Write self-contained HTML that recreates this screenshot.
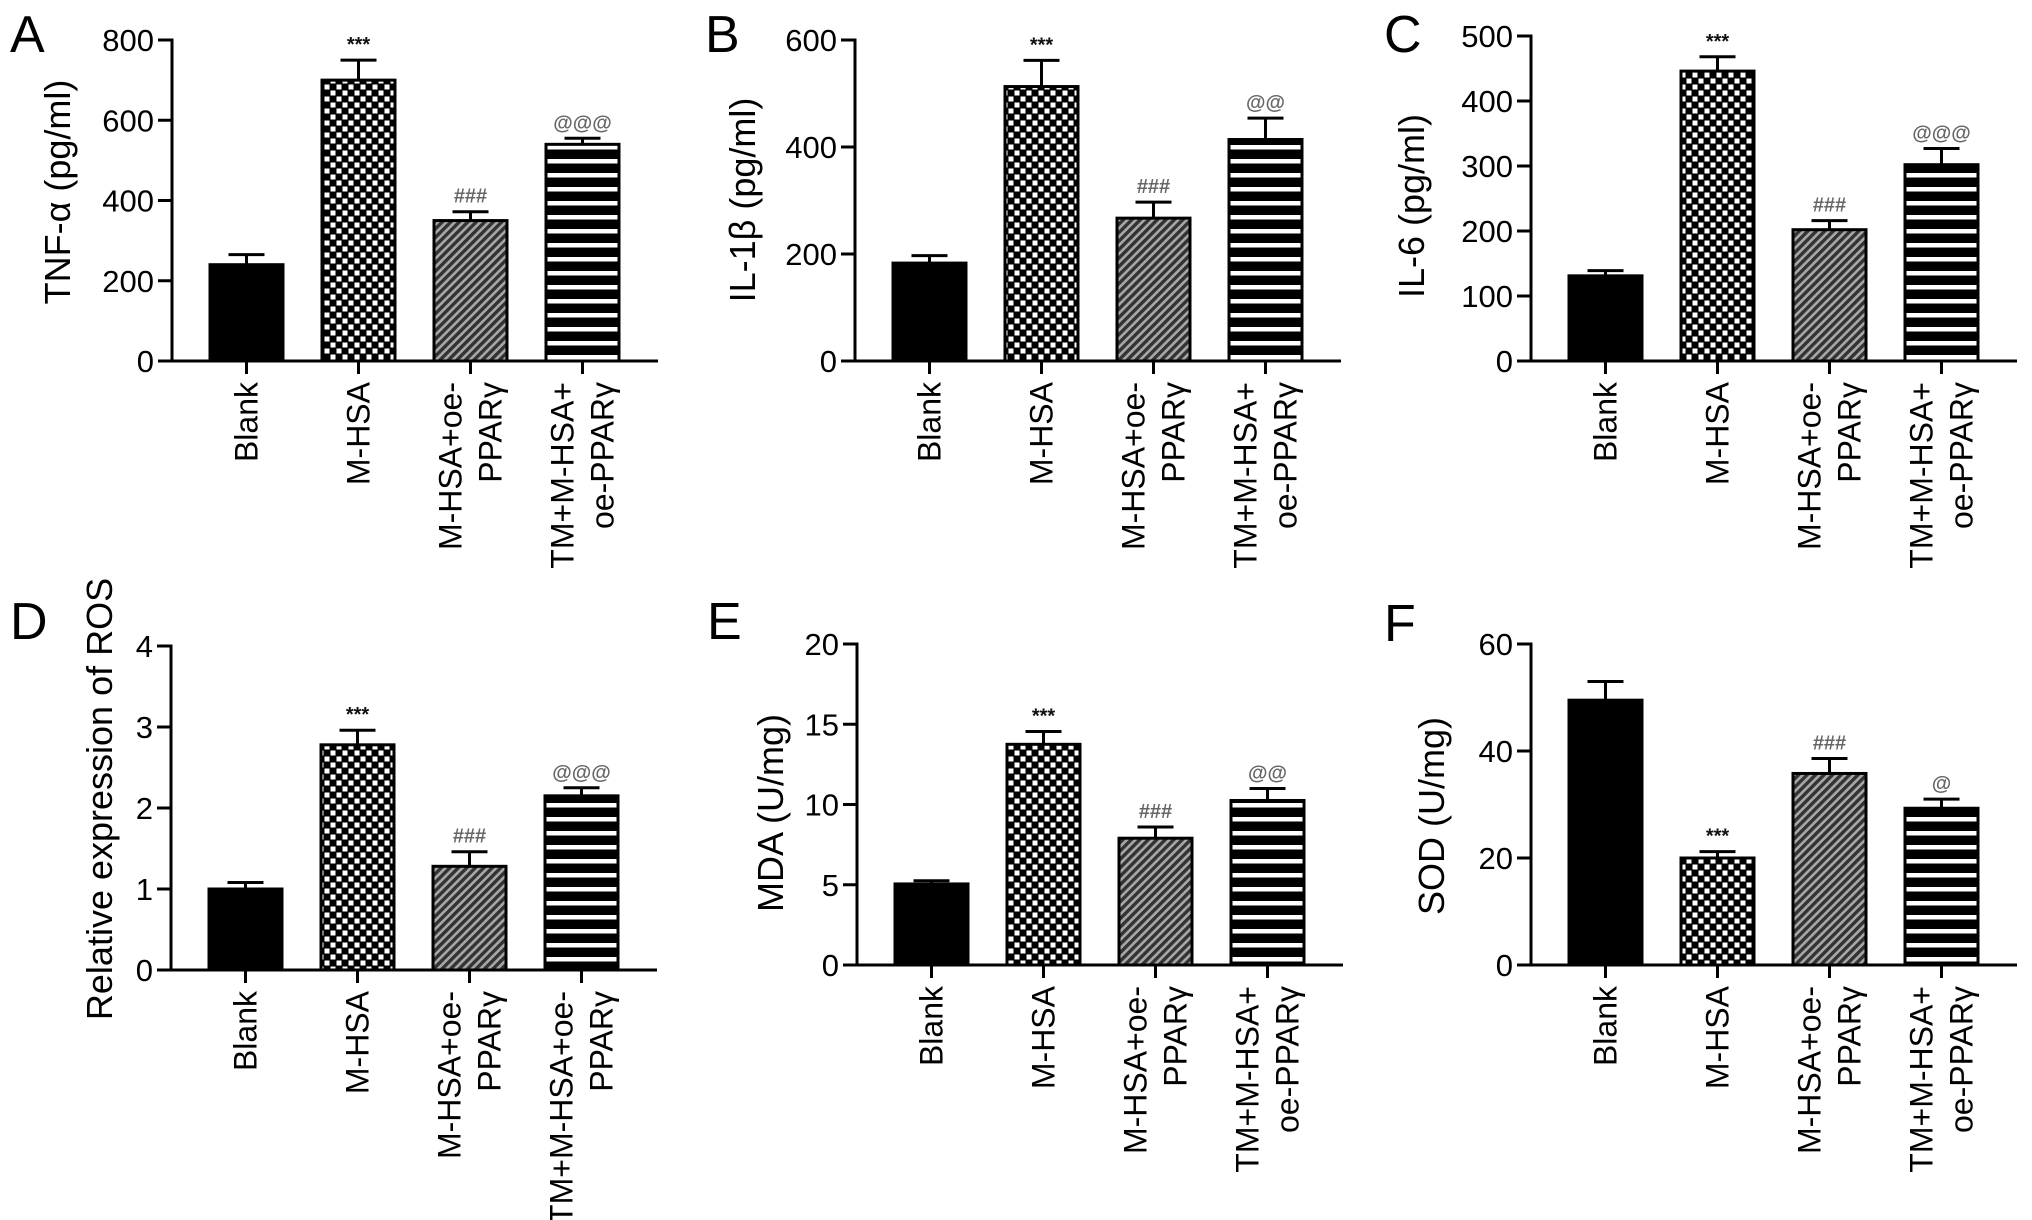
<!DOCTYPE html>
<html><head><meta charset="utf-8">
<style>
html,body{margin:0;padding:0;background:#fff;}
svg{display:block;font-family:"Liberation Sans",Arial,sans-serif;}
</style></head>
<body>
<svg id="fig" width="2032" height="1220" viewBox="0 0 2032 1220" xmlns="http://www.w3.org/2000/svg">
<defs>
<pattern id="checker" patternUnits="userSpaceOnUse" width="12" height="12">
<rect width="12" height="12" fill="#000"/>
<rect x="0.5" y="0.5" width="5" height="5" fill="#fff"/>
<rect x="6.5" y="6.5" width="5" height="5" fill="#fff"/>
</pattern>
<pattern id="diag" patternUnits="userSpaceOnUse" width="6" height="6" patternTransform="rotate(45)">
<rect width="6" height="6" fill="#a8a8a8"/>
<rect width="3.4" height="6" fill="#333"/>
</pattern>
<pattern id="stripes" patternUnits="userSpaceOnUse" width="10" height="14">
<rect width="10" height="14" fill="#000"/>
<rect y="5" width="10" height="4.5" fill="#fff"/>
</pattern>
</defs>
</svg>
<script>
// Category labels (line breaks separated by |)
const categories = ["Blank", "M-HSA", "M-HSA+oe-|PPARγ", "TM+M-HSA+|oe-PPARγ"];
const categoriesD = ["Blank", "M-HSA", "M-HSA+oe-|PPARγ", "TM+M-HSA+oe-|PPARγ"];
// Panel A TNF-α
const valuesA = [240, 700, 350, 540];
const errorsA = [25, 50, 22, 15];
const ticksA = [0, 200, 400, 600, 800];
const marksA = ["", "***", "###", "@@@"];
// Panel B IL-1β
const valuesB = [183, 513, 267, 414];
const errorsB = [14, 49, 30, 40];
const ticksB = [0, 200, 400, 600];
const marksB = ["", "***", "###", "@@"];
// Panel C IL-6
const valuesC = [131, 446, 202, 302];
const errorsC = [8, 22, 14, 25];
const ticksC = [0, 100, 200, 300, 400, 500];
const marksC = ["", "***", "###", "@@@"];
// Panel D ROS
const valuesD = [1.0, 2.78, 1.28, 2.15];
const errorsD = [0.08, 0.18, 0.18, 0.1];
const ticksD = [0, 1, 2, 3, 4];
const marksD = ["", "***", "###", "@@@"];
// Panel E MDA
const valuesE = [5.05, 13.75, 7.9, 10.25];
const errorsE = [0.2, 0.8, 0.7, 0.75];
const ticksE = [0, 5, 10, 15, 20];
const marksE = ["", "***", "###", "@@"];
// Panel F SOD
const valuesF = [49.5, 20, 35.8, 29.3];
const errorsF = [3.5, 1.2, 2.8, 1.7];
const ticksF = [0, 20, 40, 60];
const marksF = ["", "***", "###", "@"];

const NS = "http://www.w3.org/2000/svg";
const svg = document.getElementById("fig");
const fills = ["#000", "url(#checker)", "url(#diag)", "url(#stripes)"];

function mk(tag, attrs, parent) {
  const e = document.createElementNS(NS, tag);
  for (const k in attrs) e.setAttribute(k, attrs[k]);
  (parent || svg).appendChild(e);
  return e;
}

function panel(cfg) {
  const g = mk("g", {});
  
  
  const yMax = cfg.ticks[cfg.ticks.length - 1];
  const yScale = v => cfg.y0 - (v / yMax) * (cfg.y0 - cfg.yTop);
  const xLeft = i => cfg.ax + 38 + i * 112;
  const bw = 73;

  const lt = mk("text", {x: cfg.lx, y: cfg.ly, "font-size": 52}, g);
  lt.textContent = cfg.letter;
  
  

  const yt = mk("text", {transform: `translate(${cfg.tx},${cfg.ty}) rotate(-90)`, "text-anchor": "middle", "font-size": 36}, g);
  yt.textContent = cfg.title;
  
  

  cfg.values.forEach((v, i) => {
    const x = xLeft(i), cx = x + bw / 2;
    const top = yScale(v);
    const errTop = yScale(v + cfg.errors[i]);
    const el = mk("line", {x1: cx, x2: cx, y1: top, y2: errTop, stroke: "#000", "stroke-width": 3}, g);
    
    
    const cap = mk("line", {x1: cx - 18, x2: cx + 18, y1: errTop, y2: errTop, stroke: "#000", "stroke-width": 3}, g);
    
    
    const b = mk("rect", {x: x, y: top, width: bw, height: cfg.y0 - top, fill: fills[i], stroke: "#000", "stroke-width": 3}, g);
    
    
    if (cfg.marks[i]) {
      const m = mk("text", {x: cx, y: errTop - 9, "text-anchor": "middle", "font-size": 20, "font-weight": "bold", fill: cfg.marks[i][0] === "*" ? "#111" : "#666"}, g);
      m.textContent = cfg.marks[i];
      
      
    }
    const xt = mk("line", {x1: cx, x2: cx, y1: cfg.y0, y2: cfg.y0 + 13, stroke: "#000", "stroke-width": 3}, g);
    
    
    const lines = cfg.cats[i].split("|");
    lines.forEach((ln, j) => {
      const off = lines.length === 1 ? 0 : (j === 0 ? -20 : 20);
      const bx = cx + off + 11;
      const t = mk("text", {transform: `translate(${bx},${cfg.y0 + 21}) rotate(-90)`, "text-anchor": "end", "font-size": 32}, g);
      t.textContent = ln;
      
      
    });
  });

  const ya = mk("line", {x1: cfg.ax, x2: cfg.ax, y1: cfg.yTop - 1.5, y2: cfg.y0 + 1.5, stroke: "#000", "stroke-width": 3}, g);
  
  
  const xa = mk("line", {x1: cfg.ax - 14, x2: cfg.ax + 486, y1: cfg.y0, y2: cfg.y0, stroke: "#000", "stroke-width": 3}, g);
  
  
  cfg.ticks.forEach(tv => {
    const y = yScale(tv);
    const tk = mk("line", {x1: cfg.ax - 14, x2: cfg.ax, y1: y, y2: y, stroke: "#000", "stroke-width": 3}, g);
    
    
    const tl = mk("text", {x: cfg.ax - 18, y: y + 11, "text-anchor": "end", "font-size": 31}, g);
    tl.textContent = tv;
    
    
  });
}

panel({letter: "A", lx: 10, ly: 52, title: "TNF-α (pg/ml)", tx: 70, ty: 192, ax: 172, yTop: 40, y0: 361, values: valuesA, errors: errorsA, ticks: ticksA, marks: marksA, cats: categories});
panel({letter: "B", lx: 705, ly: 52, title: "IL-1β (pg/ml)", tx: 755, ty: 200, ax: 855, yTop: 40, y0: 361, values: valuesB, errors: errorsB, ticks: ticksB, marks: marksB, cats: categories});
panel({letter: "C", lx: 1384, ly: 52, title: "IL-6 (pg/ml)", tx: 1424, ty: 206, ax: 1531, yTop: 36, y0: 361, values: valuesC, errors: errorsC, ticks: ticksC, marks: marksC, cats: categories});
panel({letter: "D", lx: 10, ly: 639, title: "Relative expression of ROS", tx: 112, ty: 799, ax: 171, yTop: 646, y0: 970, values: valuesD, errors: errorsD, ticks: ticksD, marks: marksD, cats: categoriesD});
panel({letter: "E", lx: 707, ly: 639, title: "MDA (U/mg)", tx: 783, ty: 813, ax: 857, yTop: 644, y0: 965, values: valuesE, errors: errorsE, ticks: ticksE, marks: marksE, cats: categories});
panel({letter: "F", lx: 1384, ly: 641, title: "SOD (U/mg)", tx: 1444, ty: 816, ax: 1531, yTop: 644, y0: 965, values: valuesF, errors: errorsF, ticks: ticksF, marks: marksF, cats: categories});
</script>
</body></html>
